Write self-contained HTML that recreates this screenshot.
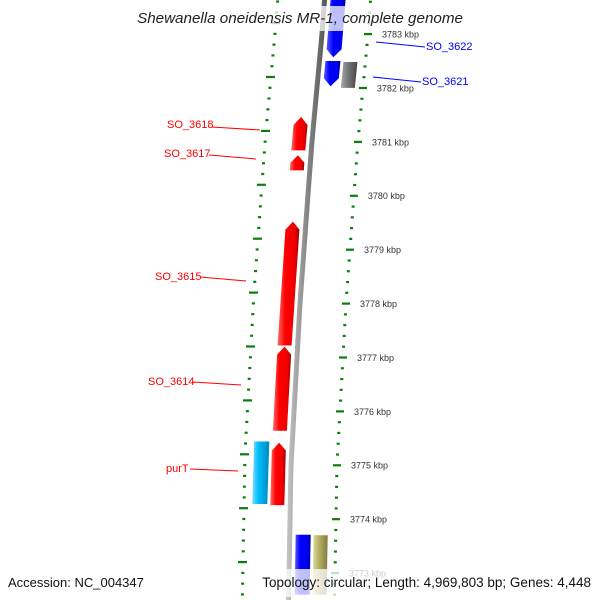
<!DOCTYPE html>
<html><head><meta charset="utf-8"><style>
html,body{margin:0;padding:0;background:#fff;overflow:hidden;width:600px;height:600px;}
svg{display:block;font-family:"Liberation Sans","DejaVu Sans",sans-serif;overflow:hidden;}
</style></head><body>
<svg id="map" width="600" height="600" viewBox="0 0 600 600" xmlns="http://www.w3.org/2000/svg">
<defs>
<clipPath id="frame"><rect x="0" y="0" width="600" height="600"/></clipPath>
<linearGradient id="g-red" x1="0" x2="1" y1="0" y2="0"><stop offset="0" stop-color="#ff6a6a"/><stop offset="0.35" stop-color="#ff0000"/><stop offset="0.8" stop-color="#ee0000"/><stop offset="1" stop-color="#990000"/></linearGradient>
<linearGradient id="g-blue" x1="0" x2="1" y1="0" y2="0"><stop offset="0" stop-color="#5a5aff"/><stop offset="0.35" stop-color="#0000ff"/><stop offset="0.8" stop-color="#0000ee"/><stop offset="1" stop-color="#000099"/></linearGradient>
<linearGradient id="g-gray" x1="0" x2="1" y1="0" y2="0"><stop offset="0" stop-color="#aaa"/><stop offset="0.35" stop-color="#808080"/><stop offset="1" stop-color="#444"/></linearGradient>
<linearGradient id="g-cyan" x1="0" x2="1" y1="0" y2="0"><stop offset="0" stop-color="#7fdcff"/><stop offset="0.35" stop-color="#00bfff"/><stop offset="1" stop-color="#0088bb"/></linearGradient>
<linearGradient id="g-khaki" x1="0" x2="1" y1="0" y2="0"><stop offset="0" stop-color="#e0da9c"/><stop offset="0.35" stop-color="#bdb76b"/><stop offset="1" stop-color="#807a40"/></linearGradient>
<linearGradient id="g-bb" x1="0" x2="1" y1="0" y2="0"><stop offset="0" stop-color="#c8c8c8"/><stop offset="0.5" stop-color="#888"/><stop offset="1" stop-color="#555"/></linearGradient>
</defs>
<g id="layer" clip-path="url(#frame)"></g>
<g id="labels">
  <line x1="212" y1="127" x2="260" y2="130" stroke="#f00" stroke-width="1"/>
  <text x="167" y="128" font-size="11" fill="#f00">SO_3618</text>
  <line x1="209" y1="155" x2="256" y2="159" stroke="#f00" stroke-width="1"/>
  <text x="164" y="157" font-size="11" fill="#f00">SO_3617</text>
  <line x1="200" y1="277" x2="246" y2="281" stroke="#f00" stroke-width="1"/>
  <text x="155" y="280" font-size="11" fill="#f00">SO_3615</text>
  <line x1="193" y1="382" x2="241" y2="385" stroke="#f00" stroke-width="1"/>
  <text x="148" y="385" font-size="11" fill="#f00">SO_3614</text>
  <line x1="190" y1="469" x2="238" y2="471" stroke="#f00" stroke-width="1"/>
  <text x="166" y="472" font-size="11" fill="#f00">purT</text>
  <line x1="376" y1="42" x2="425" y2="47" stroke="#00f" stroke-width="1"/>
  <text x="426" y="50" font-size="11" fill="#00f">SO_3622</text>
  <line x1="373" y1="77" x2="421" y2="82" stroke="#00f" stroke-width="1"/>
  <text x="422" y="85" font-size="11" fill="#00f">SO_3621</text>
</g>
<rect x="125" y="6" width="350" height="25" fill="#fff" opacity="0.75"/>
<text x="300" y="23" text-anchor="middle" font-size="15.2" font-style="italic" fill="#222">Shewanella oneidensis MR-1, complete genome</text>
<rect x="0" y="569" width="150" height="28" fill="#fff" opacity="0.75"/>
<text x="8" y="587" font-size="13" fill="#111">Accession: NC_004347</text>
<rect x="255" y="569" width="345" height="28" fill="#fff" opacity="0.75"/>
<text x="591" y="587" text-anchor="end" font-size="13.5" fill="#111">Topology: circular; Length: 4,969,803 bp; Genes: 4,448</text>
</svg>
<script>
// data
const majorTicks = [3783, 3782, 3781, 3780, 3779, 3778, 3777, 3776, 3775, 3774, 3773];
const majorLabels = ["3783 kbp","3782 kbp","3781 kbp","3780 kbp","3779 kbp","3778 kbp","3777 kbp","3776 kbp","3775 kbp","3774 kbp","3773 kbp"];
const geneNames = ["SO_3622a","SO_3622","SO_3621","SO_3618","SO_3617","SO_3615","SO_3614","purT","cyan-feature","blue-feature","khaki-feature"];
const geneStart = [3783.70, 3782.50, 3782.48, 3781.46, 3780.75, 3779.52, 3777.20, 3775.42, 3775.44, 3773.71, 3773.70];
const geneEnd   = [3782.57, 3782.03, 3782.00, 3780.84, 3780.47, 3777.22, 3775.64, 3774.26, 3774.28, 3772.60, 3772.60];
const geneStrand = [-1, -1, 0, 1, 1, 1, 1, 1, 0, 0, 0];
const geneTrack = ["r1","r1","r2","l1","l1","l1","l1","l1","l2","r1","r2"];
const geneColor = ["blue","blue","gray","red","red","red","red","red","cyan","blue","khaki"];

// axis functions
const KBP0 = 3783, Y0 = 34, PXK = 53.9;
function yOf(k){ return Y0 + (KBP0 - k) * PXK; }
const rY = [-20, 34, 87, 141, 194, 249, 303, 357, 411, 464, 519, 573, 630];
const rX = [372, 368, 363, 358, 354, 350, 346, 343, 340, 337, 336, 335, 334];
function R(y){
  if (y <= rY[0]) return rX[0];
  for (let i = 1; i < rY.length; i++) {
    if (y <= rY[i]) { const t = (y - rY[i-1]) / (rY[i] - rY[i-1]); return rX[i-1] + t * (rX[i] - rX[i-1]); }
  }
  return rX[rX.length-1];
}
const trackOff = { r1: [-40, -25], r2: [-22, -8], l1: [-66, -52], l2: [-84, -69] };
const NS = "http://www.w3.org/2000/svg";
const layer = document.getElementById("layer");
function mk(tag, attrs){ const e = document.createElementNS(NS, tag); for (const k in attrs) e.setAttribute(k, attrs[k]); return e; }

// backbone
(function(){
  const pts = [];
  for (let y = 0; y <= 600; y += 10) pts.push([R(y) - 48.5, y]);
  for (let y = 600; y >= 0; y -= 10) pts.push([R(y) - 43.5, y]);
  const bb = mk("polygon", { points: pts.map(p => p.join(",")).join(" "), fill: "url(#g-bb)" });
  
  
  layer.appendChild(bb);
})();

// ticks
const tickG = mk("g", {});


layer.appendChild(tickG);
for (let i = 0; i <= 64; i++) {
  const k = 3783.6 - i * 0.2;
  const isMajor = Math.abs(k - Math.round(k)) < 0.01;
  const y = yOf(k);
  const xr = R(y);
  if (y > -2 && y < 598) {
    const d1 = mk("rect", isMajor ? { x: xr - 4, y: y - 1, width: 8, height: 2.2, fill: "#0a7d0a" } : { x: xr - 1.5, y: y - 1, width: 3, height: 2.2, fill: "#0a7d0a" });
    
    
    tickG.appendChild(d1);
  }
  const yl = y - 11;
  const xl = R(y) - 92;
  if (yl > -2 && yl < 598) {
    const d2 = mk("rect", isMajor ? { x: xl - 5, y: yl - 1, width: 9, height: 2.2, fill: "#0a7d0a" } : { x: xl - 1.5, y: yl - 1, width: 3, height: 2.2, fill: "#0a7d0a" });
    
    
    tickG.appendChild(d2);
  }
}
for (let i = 0; i < majorTicks.length; i++) {
  const y = yOf(majorTicks[i]);
  const t = mk("text", { x: R(y) + 14, y: y + 3.5, "font-size": 9, fill: "#333" });
  t.textContent = majorLabels[i];
  
  
  tickG.appendChild(t);
}

// genes
for (let i = 0; i < geneNames.length; i++) {
  const y1 = Math.max(yOf(geneStart[i]), -2), y2 = Math.min(yOf(geneEnd[i]), 602);
  const o = trackOff[geneTrack[i]];
  const a1 = R(y1) + o[0], b1 = R(y1) + o[1], a2 = R(y2) + o[0], b2 = R(y2) + o[1];
  let pts;
  const h = 8;
  if (geneStrand[i] === 1) {
    const ym = Math.min(y1 + h, (y1 + y2) / 2);
    const am = R(ym) + o[0], bm = R(ym) + o[1];
    pts = [[am, ym], [(a1 + b1) / 2, y1], [bm, ym], [b2, y2], [a2, y2]];
  } else if (geneStrand[i] === -1) {
    const ym = Math.max(y2 - h, (y1 + y2) / 2);
    const am = R(ym) + o[0], bm = R(ym) + o[1];
    pts = [[a1, y1], [b1, y1], [bm, ym], [(a2 + b2) / 2, y2], [am, ym]];
  } else {
    pts = [[a1, y1], [b1, y1], [b2, y2], [a2, y2]];
  }
  const p = mk("polygon", { points: pts.map(q => q[0].toFixed(1) + "," + q[1].toFixed(1)).join(" "), fill: "url(#g-" + geneColor[i] + ")" });
  
  
  layer.appendChild(p);
}
</script>
</body></html>
